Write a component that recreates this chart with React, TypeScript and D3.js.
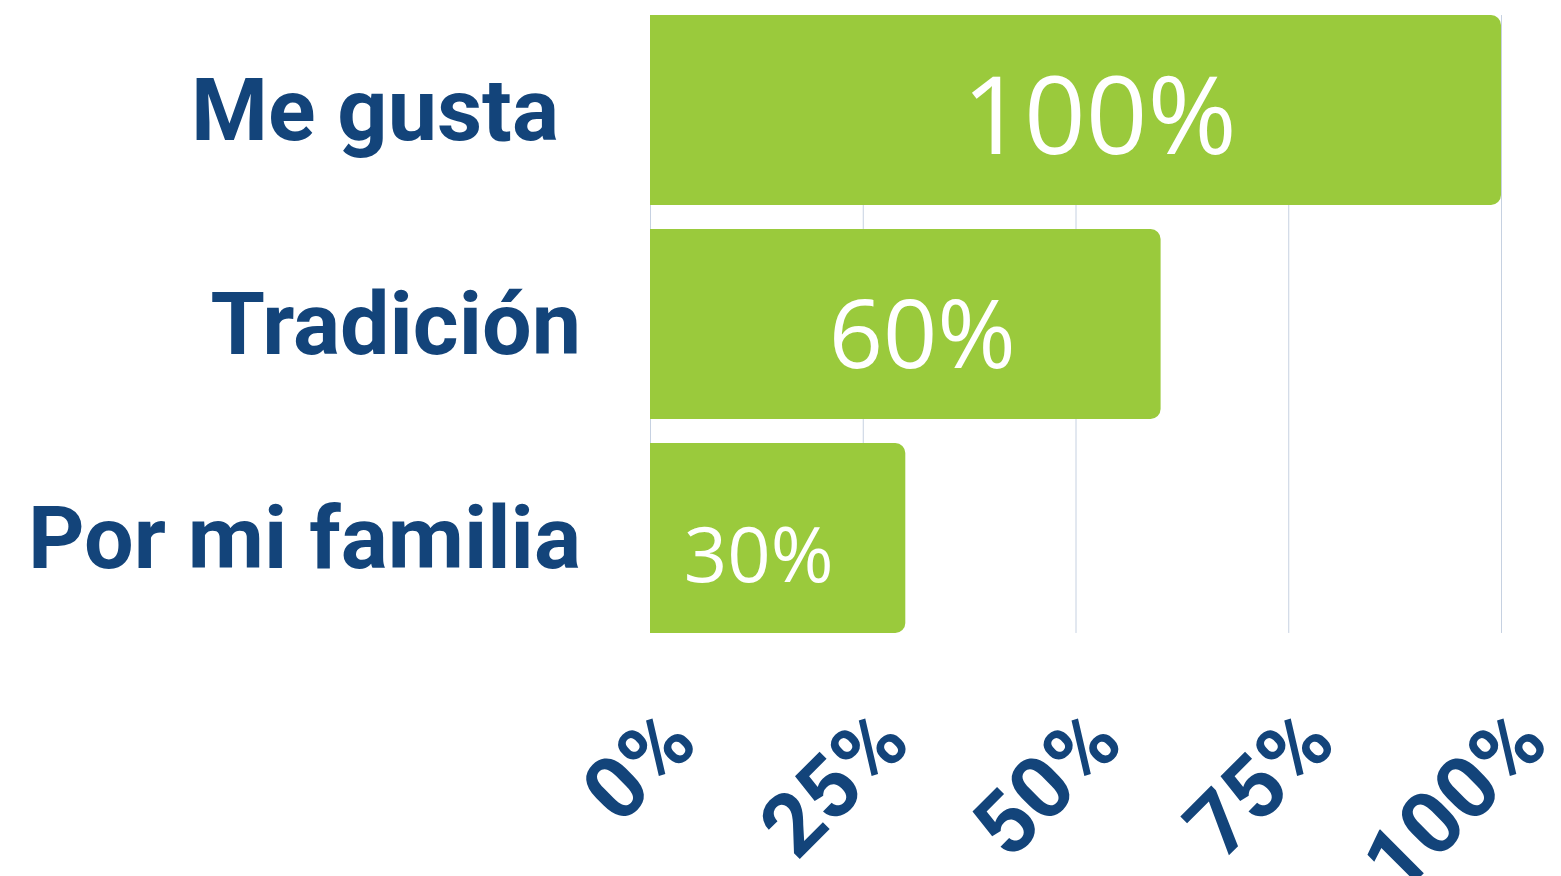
import React from "react";
import * as d3 from "d3";

// data
const categories = ["Me gusta", "Tradición", "Por mi familia"];
const values = [100, 60, 30];
const ticks = [0, 25, 50, 75, 100];

// styles
const W = 1561;
const H = 876;
const margin = { left: 650, right: 60, top: 3, bottom: 234 };
const barColor = "#9aca3c";
const textColor = "#13447a";
const gridColor = "#c6d1e1";
const valueFontSize = [108, 95, 76];
const valueDx = [24, 17, -19];
const catDx = [-22, 0, 0];

const fmt = (v: number) => `${v}%`;

const barPath = (x0: number, x1: number, y0: number, h: number, r: number) => {
    const rr = Math.min(r, (x1 - x0) / 2);
    return `M${x0},${y0}H${x1 - rr}A${rr},${rr} 0 0 1 ${x1},${y0 + rr}V${y0 + h - rr}A${rr},${rr} 0 0 1 ${x1 - rr},${y0 + h}H${x0}Z`;
};

export default function App() {
    const x = d3
        .scaleLinear()
        .domain([0, 100])
        .range([margin.left, 1501]);

    const y = d3
        .scaleBand()
        .domain(categories)
        .range([margin.top, H - margin.bottom + 3])
        .paddingInner(0.1127)
        .paddingOuter(0.0563);

    const gridTop = y(categories[0])!;
    const gridBottom = y(categories[categories.length - 1])! + y.bandwidth();

    return (
        <svg
            width={W}
            height={H}
            style={{ position: "absolute", left: 0, top: 0, background: "#fff" }}
        >
            {/* grid */}
            <g>
                {ticks.map(t => (
                    <line
                        key={'grid' + t}
                        x1={x(t) + 0.5}
                        x2={x(t) + 0.5}
                        y1={gridTop}
                        y2={gridBottom}
                        stroke={gridColor}
                        strokeWidth={1}
                    />
                ))}
            </g>

            {/* bars */}
            <g>
                {categories.map((c, i) => (
                    <path
                        key={'bar' + c}
                        d={barPath(x(0), x(values[i]), y(c)!, y.bandwidth(), 10)}
                        fill={barColor}
                    />
                ))}
            </g>

            {/* value labels */}
            <g>
                {categories.map((c, i) => (
                    <text
                        key={'val' + c}
                        x={(x(0) + x(values[i])) / 2 + valueDx[i]}
                        y={y(c)! + y.bandwidth() / 2 + 44}
                        textAnchor="middle"
                        fill="#fff"
                        fontFamily="'Open Sans', 'Noto Sans', sans-serif"
                        fontSize={valueFontSize[i]}
                    >
                        {fmt(values[i])}
                    </text>
                ))}
            </g>

            {/* category labels */}
            <g>
                {categories.map((c, i) => (
                    <text
                        key={'cat' + c}
                        x={581 + catDx[i]}
                        y={y(c)! + y.bandwidth() / 2 + 30}
                        textAnchor="end"
                        fill={textColor}
                        fontFamily="Roboto, sans-serif"
                        fontWeight="bold"
                        fontSize={88}
                    >
                        {c}
                    </text>
                ))}
            </g>

            {/* x axis labels */}
            <g>
                {ticks.map(t => (
                    <text
                        key={'tick' + t}
                        transform={`translate(${x(t) + 50}, ${746}) rotate(-45)`}
                        textAnchor="end"
                        fill={textColor}
                        fontFamily="Roboto, sans-serif"
                        fontWeight="bold"
                        fontSize={87}
                    >
                        {fmt(t)}
                    </text>
                ))}
            </g>
        </svg>
    );
}
